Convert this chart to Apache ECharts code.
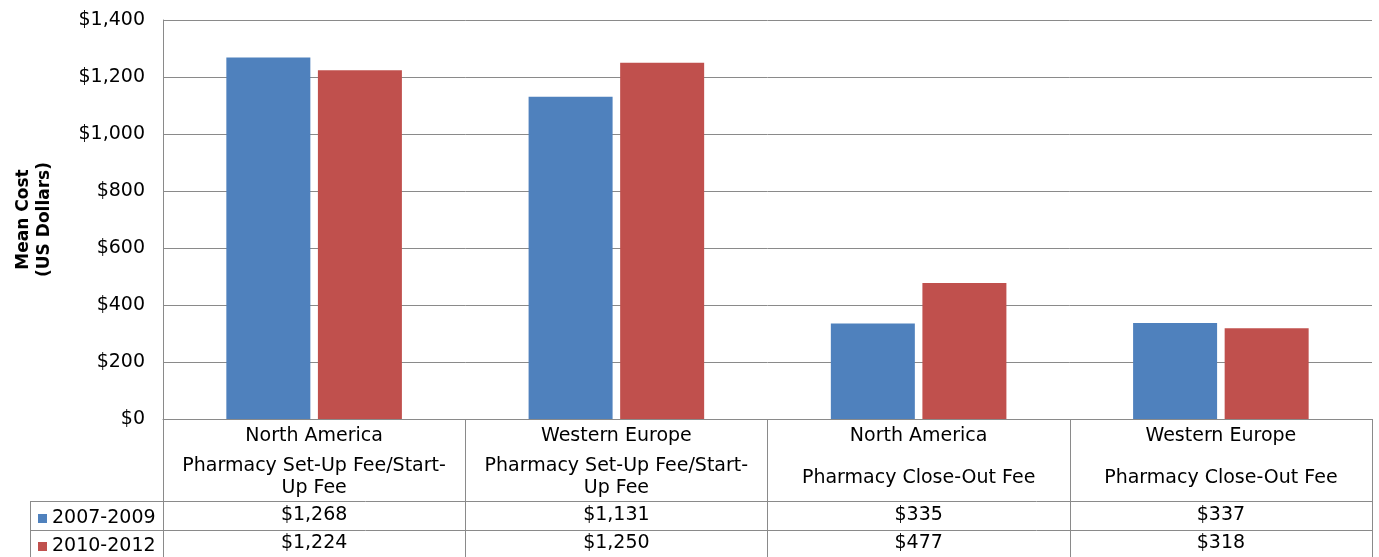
<!DOCTYPE html>
<html>
<head>
<meta charset="utf-8">
<script src="https://cdn.jsdelivr.net/npm/echarts@6/dist/echarts.min.js"></script>
<style>html,body{margin:0;padding:0;background:#fff;}#c{width:1379px;height:557px;}</style>
</head>
<body>
<div id="c"></div>
<script>
var regions = ['North America', 'Western Europe', 'North America', 'Western Europe'];
var fees = ['Pharmacy Set-Up Fee/Start-\nUp Fee', 'Pharmacy Set-Up Fee/Start-\nUp Fee', 'Pharmacy Close-Out Fee', 'Pharmacy Close-Out Fee'];
var seriesNames = ['2007-2009', '2010-2012'];
var values2007 = [1268, 1131, 335, 337];
var values2010 = [1224, 1250, 477, 318];
var yTicks = [0, 200, 400, 600, 800, 1000, 1200, 1400];
var yTitle = 'Mean Cost\n(US Dollars)';

var FONT = 'DejaVu Sans';
var GRID = '#8a8a8a';
var BLUE = '#4F81BD', RED = '#C0504D';

function money(v) {
  return '$' + String(v).replace(/\B(?=(\d{3})+(?!\d))/g, ',');
}

var categories = regions.map(function (r, i) { return String(i); });

function legendFor(name, top) {
  return {
    orient: 'horizontal',
    left: 38,
    top: top,
    padding: 0,
    itemWidth: 9,
    itemHeight: 9,
    icon: 'rect',
    textStyle: { fontFamily: FONT, fontSize: 19, color: '#000', lineHeight: 18 },
    data: [name]
  };
}

var chart = echarts.init(document.getElementById('c'));
chart.setOption({
  backgroundColor: '#fff',
  animation: false,
  textStyle: { fontFamily: FONT, color: '#000' },
  grid: { left: 163, right: 7, top: 20, bottom: 138, containLabel: false, outerBoundsMode: 'none' },
  legend: [legendFor(seriesNames[0], 509), legendFor(seriesNames[1], 537)],
  xAxis: {
    type: 'category',
    data: categories,
    boundaryGap: true,
    axisLine: { show: true, lineStyle: { color: GRID, width: 1 } },
    axisTick: { show: true, length: 138, interval: 0, lineStyle: { color: GRID, width: 1 } },
    axisLabel: {
      interval: 0,
      margin: 2,
      verticalAlign: 'top',
      align: 'center',
      formatter: function (v) {
        var i = +v;
        var lines = [];
        lines.push('{r|' + regions[i] + '}');
        lines.push('{s| }');
        var fl = fees[i].split('\n');
        if (fl.length === 2) {
          lines.push('{f|' + fl[0] + '}');
          lines.push('{f2|' + fl[1] + '}');
        } else {
          lines.push('{f1|' + fl[0] + '}');
        }
        lines.push('{s2| }');
        lines.push('{v1|' + money(values2007[i]) + '}');
        lines.push('{v2|' + money(values2010[i]) + '}');
        return lines.join('\n');
      },
      rich: {
        r: { fontFamily: FONT, fontSize: 19, lineHeight: 31, color: '#000' },
        s: { fontSize: 2, lineHeight: 4 },
        s2: { fontSize: 2, lineHeight: 1 },
        f: { fontFamily: FONT, fontSize: 19, lineHeight: 21, color: '#000' },
        f2: { fontFamily: FONT, fontSize: 19, lineHeight: 23, color: '#000' },
        f1: { fontFamily: FONT, fontSize: 19, lineHeight: 44, color: '#000' },
        v1: { fontFamily: FONT, fontSize: 19, lineHeight: 29, color: '#000' },
        v2: { fontFamily: FONT, fontSize: 19, lineHeight: 27, color: '#000' }
      }
    },
    splitLine: { show: false }
  },
  yAxis: {
    type: 'value',
    min: yTicks[0],
    max: yTicks[yTicks.length - 1],
    interval: yTicks[1] - yTicks[0],
    name: yTitle,
    nameLocation: 'middle',
    nameGap: 108,
    nameRotate: 90,
    nameTextStyle: { fontFamily: FONT, fontSize: 17, fontWeight: 'bold', lineHeight: 21, color: '#000', align: 'center' },
    axisLine: { show: true, lineStyle: { color: GRID, width: 1 } },
    axisTick: { show: false },
    axisLabel: {
      margin: 18,
      fontFamily: FONT,
      fontSize: 19,
      color: '#000',
      formatter: function (v) { return money(v); }
    },
    splitLine: { show: true, lineStyle: { color: GRID, width: 1 } }
  },
  graphic: [
    { type: 'line', shape: { x1: 30, y1: 501.5, x2: 1372, y2: 501.5 }, style: { stroke: GRID, lineWidth: 1 } },
    { type: 'line', shape: { x1: 30, y1: 530.5, x2: 1372, y2: 530.5 }, style: { stroke: GRID, lineWidth: 1 } },
    { type: 'line', shape: { x1: 30.5, y1: 501, x2: 30.5, y2: 557 }, style: { stroke: GRID, lineWidth: 1 } }
  ],
  series: [
    {
      name: seriesNames[0],
      type: 'bar',
      data: values2007,
      barWidth: 84,
      barGap: '9%',
      itemStyle: { color: BLUE }
    },
    {
      name: seriesNames[1],
      type: 'bar',
      data: values2010,
      barWidth: 84,
      barGap: '9%',
      itemStyle: { color: RED }
    }
  ]
});
</script>
</body>
</html>
